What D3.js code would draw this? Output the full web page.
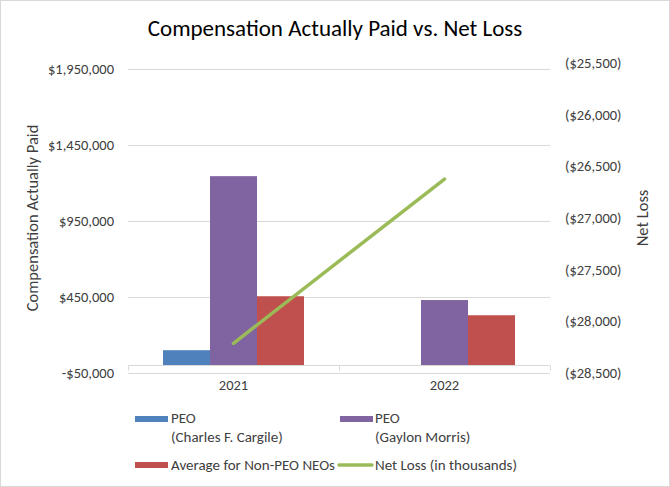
<!DOCTYPE html>
<html lang="en">
<head>
<meta charset="utf-8">
<title>Compensation Actually Paid vs. Net Loss</title>
<script src="https://d3js.org/d3.v7.min.js"></script>
<style>
  body { margin: 0; background: #fff; }
  svg { display: block; font-family: Carlito, Calibri, Lato, "Liberation Sans", sans-serif; }
</style>
</head>
<body>
<script>
// data
var years = ["2021", "2022"];
var seriesNames = ["PEO (Charles F. Cargile)", "PEO (Gaylon Morris)", "Average for Non-PEO NEOs"];
var cargile = [100000, null];
var morris = [1245000, 430000];
var nonPeo = [455000, 330000];
var netLoss = [-28213, -26623];
var leftTicks = [-50000, 450000, 950000, 1450000, 1950000];
var rightTicks = [-28500, -28000, -27500, -27000, -26500, -26000, -25500];

var colors = ["#4F81BD", "#8064A2", "#C0504D"];
var lineColor = "#9BBB59";

var w = 670, h = 487;
var svg = d3.select("body").append("svg").attr("width", w).attr("height", h);

svg.append("rect").attr("x", 0.5).attr("y", 0.5).attr("width", w - 1).attr("height", h - 1)
  .attr("fill", "#fff").attr("stroke", "#d9d9d9");

var left = 128, right = 550;

var x = d3.scaleBand().domain(years).range([left, right]).paddingInner(0).paddingOuter(0);
var xs = d3.scaleBand().domain([0, 1, 2]).range([0, 141]);
var yL = d3.scaleLinear().domain([-50000, 1950000]).range([373, 69]);
var yR = d3.scaleLinear().domain([-28500, -25500]).range([373, 63]);

// title
svg.append("text").attr("x", 335).attr("y", 36).attr("text-anchor", "middle")
  .attr("font-size", 23).attr("fill", "#000").text("Compensation Actually Paid vs. Net Loss");

// gridlines
svg.append("g").selectAll("line").data(leftTicks).join("line")
  .attr("x1", left).attr("x2", right)
  .attr("y1", d => Math.round(yL(d)) + 0.5).attr("y2", d => Math.round(yL(d)) + 0.5)
  .attr("stroke", "#d9d9d9");

// left axis labels
svg.append("g").selectAll("text").data(leftTicks).join("text")
  .attr("x", 114).attr("y", d => yL(d)).attr("dy", "0.35em")
  .attr("text-anchor", "end").attr("font-size", 14.5).attr("fill", "#404040")
  .text(d => (d < 0 ? "-$" : "$") + d3.format(",")(Math.abs(d)));

// right axis labels
svg.append("g").selectAll("text").data(rightTicks).join("text")
  .attr("x", 565).attr("y", d => yR(d)).attr("dy", "0.35em")
  .attr("text-anchor", "start").attr("font-size", 14.5).attr("fill", "#404040")
  .text(d => "($" + d3.format(",")(Math.abs(d)) + ")");

// axis titles
svg.append("text").attr("transform", "translate(38,218) rotate(-90)")
  .attr("text-anchor", "middle").attr("font-size", 16.5).attr("fill", "#404040")
  .text("Compensation Actually Paid");
svg.append("text").attr("transform", "translate(648,218) rotate(-90)")
  .attr("text-anchor", "middle").attr("font-size", 16.5).attr("fill", "#404040")
  .text("Net Loss");

// bars
var seriesVals = [cargile, morris, nonPeo];
seriesVals.forEach(function(vals, si) {
  svg.append("g").selectAll("rect").data(years.map((yr, i) => ({yr: yr, v: vals[i]})).filter(d => d.v != null))
    .join("rect")
    .attr("x", d => x(d.yr) + (x.bandwidth() - 141) / 2 + xs(si))
    .attr("width", xs.bandwidth())
    .attr("y", d => yL(d.v))
    .attr("height", d => yL(0) - yL(d.v))
    .attr("fill", colors[si]);
});

// category axis at zero
var y0 = Math.round(yL(0)) + 0.5;
svg.append("line").attr("x1", left).attr("x2", right).attr("y1", y0).attr("y2", y0).attr("stroke", "#d9d9d9");
svg.append("g").selectAll("line").data([left, x(years[1]), right]).join("line")
  .attr("x1", d => Math.round(d) + 0.5).attr("x2", d => Math.round(d) + 0.5)
  .attr("y1", y0).attr("y2", y0 + 5).attr("stroke", "#d9d9d9");
svg.append("g").selectAll("text").data(years).join("text")
  .attr("x", d => x(d) + x.bandwidth() / 2).attr("y", 390)
  .attr("text-anchor", "middle").attr("font-size", 14.5).attr("fill", "#404040").text(d => d);

// net loss line
var line = d3.line().x((d, i) => x(years[i]) + x.bandwidth() / 2).y(d => yR(d));
svg.append("path").datum(netLoss).attr("d", line)
  .attr("fill", "none").attr("stroke", lineColor).attr("stroke-width", 3.5).attr("stroke-linecap", "round");

// legend
var lg = svg.append("g").attr("font-size", 15).attr("fill", "#404040");
function swatch(x0, yy, c, isLine) {
  if (isLine) lg.append("line").attr("x1", x0).attr("x2", x0 + 33).attr("y1", yy).attr("y2", yy)
    .attr("stroke", c).attr("stroke-width", 3.5).attr("stroke-linecap", "round");
  else lg.append("rect").attr("x", x0).attr("y", yy - 3).attr("width", 33).attr("height", 6).attr("fill", c);
}
swatch(135, 419, colors[0]);
lg.append("text").attr("x", 171).attr("y", 423).text("PEO");
lg.append("text").attr("x", 171).attr("y", 442).text("(Charles F. Cargile)");
swatch(340, 419, colors[1]);
lg.append("text").attr("x", 375).attr("y", 423).text("PEO");
lg.append("text").attr("x", 375).attr("y", 442).text("(Gaylon Morris)");
swatch(135, 465, colors[2]);
lg.append("text").attr("x", 171).attr("y", 470).text("Average for Non-PEO NEOs");
swatch(339, 465, lineColor, true);
lg.append("text").attr("x", 375).attr("y", 470).text("Net Loss (in thousands)");
</script>
</body>
</html>
